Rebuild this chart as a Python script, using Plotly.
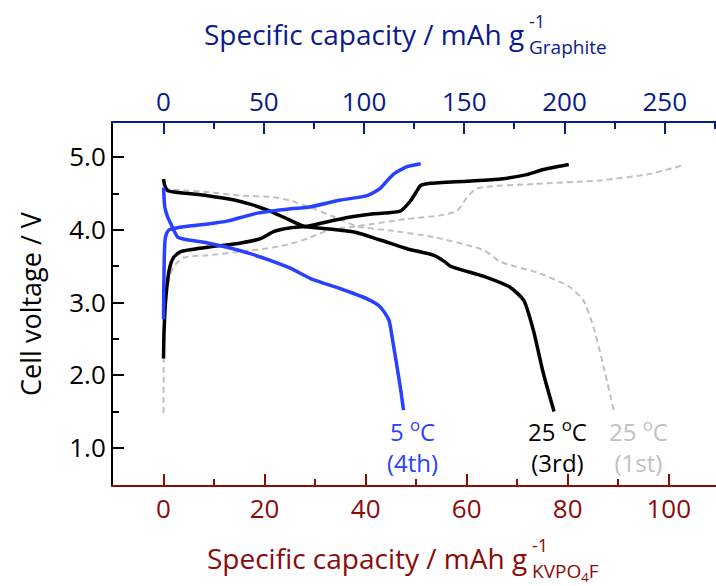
import plotly.graph_objects as go

# Galvanostatic profiles, capacity in mAh per g of KVPO4F, voltage in V
cap_3rd_charge = [0, 0.1, 0.3, 0.5, 0.8, 1.1, 1.5, 2.1, 3.4, 8.7, 15.3, 19.2, 21.9, 25.2, 28.5, 35.0,
                  41.6, 46.9, 48.9, 50.0, 50.9, 52.8, 60.1, 66.7, 71.9, 75.2, 80.2]
v_3rd_charge = [2.23, 2.6, 2.9, 3.1, 3.3, 3.44, 3.55, 3.63, 3.70, 3.76, 3.82, 3.88, 3.98, 4.03, 4.05, 4.15,
                4.22, 4.26, 4.40, 4.52, 4.61, 4.64, 4.67, 4.70, 4.76, 4.83, 4.90]
cap_3rd_discharge = [0, 0.2, 0.8, 3.4, 8.7, 14.0, 17.3, 20.6, 24.5, 27.8, 31.7, 37.7, 42.9, 48.2, 53.5,
                     55.5, 56.8, 63.4, 68.6, 71.3, 73.2, 75.2, 77.3]
v_3rd_discharge = [4.70, 4.62, 4.54, 4.51, 4.47, 4.41, 4.35, 4.27, 4.15, 4.05, 4.02, 3.97, 3.86, 3.74, 3.65,
                   3.57, 3.50, 3.36, 3.21, 3.03, 2.62, 2.02, 1.50]

cap_4th_charge = [0, 0.05, 0.15, 0.3, 0.6, 1.1, 2.8, 8.7, 12.6, 15.3, 18.6, 25.2, 28.5, 35.0, 40.3, 42.9,
                  44.3, 45.6, 48.2, 50.9]
v_4th_charge = [2.77, 3.2, 3.6, 3.86, 3.95, 4.0, 4.03, 4.08, 4.12, 4.17, 4.23, 4.29, 4.31, 4.41, 4.47, 4.57,
                4.68, 4.77, 4.87, 4.91]
cap_4th_discharge = [0, 0.1, 0.26, 0.8, 1.4, 2.2, 2.8, 4.1, 8.7, 12.6, 17.3, 21.9, 25.2, 29.1, 35.0, 40.3,
                     42.9, 44.6, 45.3, 45.9, 46.9, 47.5]
v_4th_discharge = [4.58, 4.45, 4.31, 4.18, 4.09, 3.97, 3.90, 3.87, 3.82, 3.76, 3.67, 3.56, 3.47, 3.33, 3.19,
                   3.05, 2.94, 2.76, 2.5, 2.25, 1.82, 1.52]

cap_1st_charge = [0, 0.1, 0.5, 1.3, 2.3, 4.1, 8.7, 15.3, 21.9, 25.2, 28.5, 32.4, 38.3, 48.2, 54.8, 58.1,
                  60.1, 62.0, 73.2, 86.4, 96.3, 102.9]
v_1st_charge = [1.48, 2.6, 3.1, 3.38, 3.52, 3.62, 3.65, 3.70, 3.76, 3.81, 3.88, 3.99, 4.05, 4.15, 4.20, 4.26,
                4.45, 4.57, 4.63, 4.68, 4.77, 4.89]
cap_1st_discharge = [0, 3.0, 8.7, 15.3, 21.9, 25.2, 29.8, 33.7, 38.3, 44.9, 53.5, 63.4, 66.7, 74.6, 80.5,
                     83.1, 85.1, 87.1, 89.1]
v_1st_discharge = [4.57, 4.55, 4.52, 4.47, 4.45, 4.40, 4.29, 4.18, 4.05, 3.99, 3.90, 3.72, 3.56, 3.40, 3.21,
                   3.03, 2.66, 2.12, 1.52]

# Conversion factor between the two capacity scales (graphite / KVPO4F mass)
graphite_ratio = 2.52

x_range = [-10, 109.35]
y_range = [0.49, 5.47]

BLUE = "#2840FF"
BLACK = "#000000"
GREY = "#C0C0C0"
RED = "#8B0A0A"
NAVY = "#0A1A8A"
FONT = "Open Sans"

fig = go.Figure()

curves = [
    (cap_1st_charge, v_1st_charge, GREY, "dash", 2),
    (cap_1st_discharge, v_1st_discharge, GREY, "dash", 2),
    (cap_3rd_charge, v_3rd_charge, BLACK, "solid", 3.5),
    (cap_3rd_discharge, v_3rd_discharge, BLACK, "solid", 3.5),
    (cap_4th_charge, v_4th_charge, BLUE, "solid", 3.5),
    (cap_4th_discharge, v_4th_discharge, BLUE, "solid", 3.5),
]
for xs, ys, col, dash, w in curves:
    fig.add_trace(go.Scatter(
        x=xs, y=ys, mode="lines",
        line=dict(color=col, width=w, dash="6px,4px" if dash == "dash" else None,
                  shape="spline", smoothing=0.6),
        showlegend=False, hoverinfo="skip",
    ))

# The 3rd-cycle charge expressed per gram of graphite, so the top axis is tied to data
fig.add_trace(go.Scatter(
    x=[c * graphite_ratio for c in cap_3rd_charge], y=v_3rd_charge, xaxis="x2", mode="lines",
    line=dict(color="rgba(0,0,0,0)", width=0), showlegend=False, hoverinfo="skip",
))

W, H = 716, 586
ML, MR, MT, MB = 113, 0, 123, 101
PW, PH = W - ML - MR, H - MT - MB


def px_to_paper(px, py):
    return (px - ML) / PW, (H - MB - py) / PH


fig.update_layout(
    width=W, height=H,
    margin=dict(l=ML, r=MR, t=MT, b=MB),
    paper_bgcolor="white", plot_bgcolor="white",
    font=dict(family=FONT, size=26, color=BLACK),
    xaxis=dict(
        range=x_range, side="bottom", showgrid=False, zeroline=False,
        showline=True, linecolor=RED, linewidth=2,
        ticks="inside", ticklen=11, tickwidth=2, tickcolor=RED,
        tick0=0, dtick=20, tickfont=dict(size=26, color=RED),
        minor=dict(ticks="inside", ticklen=6, tickwidth=2, tickcolor=RED, dtick=10, showgrid=False),
    ),
    xaxis2=dict(
        range=[x_range[0] * graphite_ratio, x_range[1] * graphite_ratio],
        overlaying="x", side="top", anchor="y", showgrid=False, zeroline=False,
        showline=True, linecolor=NAVY, linewidth=2,
        ticks="inside", ticklen=11, tickwidth=2, tickcolor=NAVY,
        tick0=0, dtick=50, tickfont=dict(size=26, color=NAVY),
        minor=dict(ticks="inside", ticklen=6, tickwidth=2, tickcolor=NAVY, dtick=25, showgrid=False),
    ),
    yaxis=dict(
        range=y_range, showgrid=False, zeroline=False,
        showline=True, linecolor=BLACK, linewidth=2,
        ticks="inside", ticklen=11, tickwidth=2, tickcolor=BLACK,
        tick0=0, dtick=1, tickformat=".1f", tickfont=dict(size=26, color=BLACK),
        minor=dict(ticks="inside", ticklen=6, tickwidth=2, tickcolor=BLACK, dtick=0.5, showgrid=False),
        title=dict(text="Cell voltage / V", font=dict(size=27, color=BLACK), standoff=20),
    ),
)

# Axis titles with stacked superscript / subscript
ann = []


def add_text(text, px, py, size, color, xanchor):
    x, y = px_to_paper(px, py)
    ann.append(dict(text=text, x=x, y=y, xref="paper", yref="paper", xanchor=xanchor,
                    yanchor="middle", showarrow=False, font=dict(family=FONT, size=size, color=color)))


g_end = 529
add_text("Specific capacity / mAh g", g_end, 558, 28, RED, "right")
add_text("-1", g_end + 1, 545, 18, RED, "left")
add_text("KVPO<sub>4</sub>F", g_end + 1, 572, 19, RED, "left")

add_text("Specific capacity / mAh g", g_end - 3, 34, 28, NAVY, "right")
add_text("-1", g_end - 2, 21, 18, NAVY, "left")
add_text("Graphite", g_end - 2, 47, 19, NAVY, "left")

# Curve labels (temperature and cycle number)
labels = [
    (49.2, "5 <sup>o</sup>C<br>(4th)", BLUE),
    (77.9, "25 <sup>o</sup>C<br>(3rd)", BLACK),
    (94.1, "25 <sup>o</sup>C<br>(1st)", GREY),
]
for xc, text, col in labels:
    ann.append(dict(text=text, x=xc, y=1.03, xref="x", yref="y", xanchor="center", yanchor="middle",
                    showarrow=False, font=dict(family=FONT, size=24, color=col)))

fig.update_layout(annotations=ann)

fig.write_html("out.html")
